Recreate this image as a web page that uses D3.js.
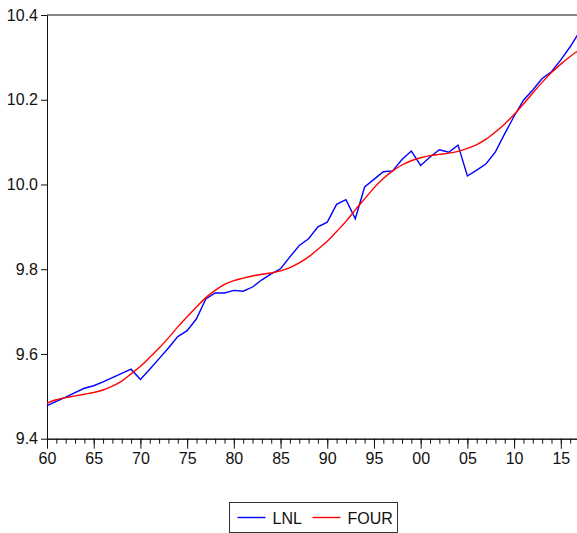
<!DOCTYPE html>
<html>
<head>
<meta charset="utf-8">
<script src="https://cdn.jsdelivr.net/npm/d3@7"></script>
<style>
  body { margin: 0; background: #fff; }
  text { font-family: "Liberation Sans", Arial, sans-serif; }
  .axis path, .axis line { stroke: #111; }
  .axis text { fill: #111; font-size: 16px; }
</style>
</head>
<body>
<div id="chart-area"></div>
<script>
// Datos: años y series
const years = d3.range(1960, 2018);

const lnl = [
  9.478, 9.488, 9.498, 9.509, 9.519, 9.525, 9.534, 9.544, 9.554, 9.564,
  9.540, 9.564, 9.589, 9.614, 9.641, 9.655, 9.683, 9.730, 9.744, 9.744,
  9.750, 9.748, 9.758, 9.775, 9.789, 9.801, 9.829, 9.856, 9.872, 9.900,
  9.911, 9.953, 9.964, 9.919, 9.994, 10.012, 10.030, 10.032, 10.059, 10.079,
  10.045, 10.065, 10.082, 10.076, 10.093, 10.020, 10.034, 10.049, 10.077, 10.120,
  10.161, 10.199, 10.223, 10.250, 10.266, 10.294, 10.325, 10.360
];

const four = [
  9.484, 9.492, 9.497, 9.501, 9.505, 9.509, 9.515, 9.524, 9.536, 9.553,
  9.571, 9.592, 9.614, 9.638, 9.664, 9.688, 9.711, 9.733, 9.750, 9.764,
  9.773, 9.779, 9.784, 9.788, 9.791, 9.796, 9.804, 9.815, 9.829, 9.847,
  9.866, 9.889, 9.913, 9.940, 9.966, 9.992, 10.014, 10.032, 10.046, 10.056,
  10.063, 10.068, 10.071, 10.074, 10.078, 10.085, 10.094, 10.107, 10.124, 10.143,
  10.165, 10.190, 10.216, 10.241, 10.264, 10.284, 10.302, 10.318
];

const seriesNames = ["LNL", "FOUR"];
const seriesColors = ["#0000ff", "#ff0000"];
const yTicks = [9.4, 9.6, 9.8, 10.0, 10.2, 10.4];
const majorYears = d3.range(1960, 2018, 5);

// Lienzo
const W = 577, H = 533;
const margin = { top: 15, left: 47, bottom: 94 };
const plotRight = 579.5;

const svg = d3.select("#chart-area")
    .append("svg")
    .attr("width", W)
    .attr("height", H);

// Escalas
const x = d3.scaleLinear().domain([1960, 2017]).range([margin.left, plotRight]);
const y = d3.scaleLinear().domain([9.4, 10.4]).range([H - margin.bottom - 0.3, margin.top]);

// Marco superior
svg.append("line")
    .attr("x1", margin.left).attr("x2", plotRight)
    .attr("y1", y(10.4)).attr("y2", y(10.4))
    .attr("stroke", "#111");

// Eje X: menores cada año, mayores cada 5 años
svg.append("g")
    .attr("class", "axis")
    .attr("transform", `translate(0, ${y(9.4)})`)
    .call(d3.axisBottom(x).tickValues(years).tickSize(5).tickSizeOuter(0).tickFormat(""));

svg.append("g")
    .attr("class", "axis")
    .attr("transform", `translate(0, ${y(9.4)})`)
    .call(d3.axisBottom(x).tickValues(majorYears).tickSize(10).tickSizeOuter(0).tickPadding(4)
        .tickFormat(d => d3.format("02")(d % 100)));

// Eje Y
svg.append("g")
    .attr("class", "axis")
    .attr("transform", `translate(${margin.left}, 0)`)
    .call(d3.axisLeft(y).tickValues(yTicks).tickSize(6).tickSizeOuter(0).tickPadding(3)
        .tickFormat(d3.format(".1f")));

// Líneas (la serie FOUR es una curva suave)
const lineRaw = d3.line()
    .x((d, i) => x(years[i]))
    .y(d => y(d));

const lineSmooth = d3.line()
    .x((d, i) => x(years[i]))
    .y(d => y(d))
    .curve(d3.curveMonotoneX);

[[lnl, lineRaw], [four, lineSmooth]].forEach(([s, gen], k) => {
    svg.append("path")
        .datum(s)
        .attr("fill", "none")
        .attr("stroke", seriesColors[k])
        .attr("stroke-width", 1.4)
        .attr("d", gen);
});

// Leyenda
const legend = svg.append("g").attr("transform", "translate(229.5, 502.5)");
legend.append("rect")
    .attr("width", 168).attr("height", 30)
    .attr("fill", "#fff").attr("stroke", "#333");

const item = legend.selectAll(".item")
    .data(seriesNames)
    .enter().append("g")
    .attr("transform", (d, i) => `translate(${8 + i * 75}, 15)`);

item.append("line")
    .attr("x1", 0).attr("x2", 28)
    .attr("stroke", (d, i) => seriesColors[i])
    .attr("stroke-width", 1.4);

item.append("text")
    .attr("x", 35).attr("y", 6)
    .style("font-size", "16px")
    .attr("fill", "#111")
    .text(d => d);
</script>
</body>
</html>
